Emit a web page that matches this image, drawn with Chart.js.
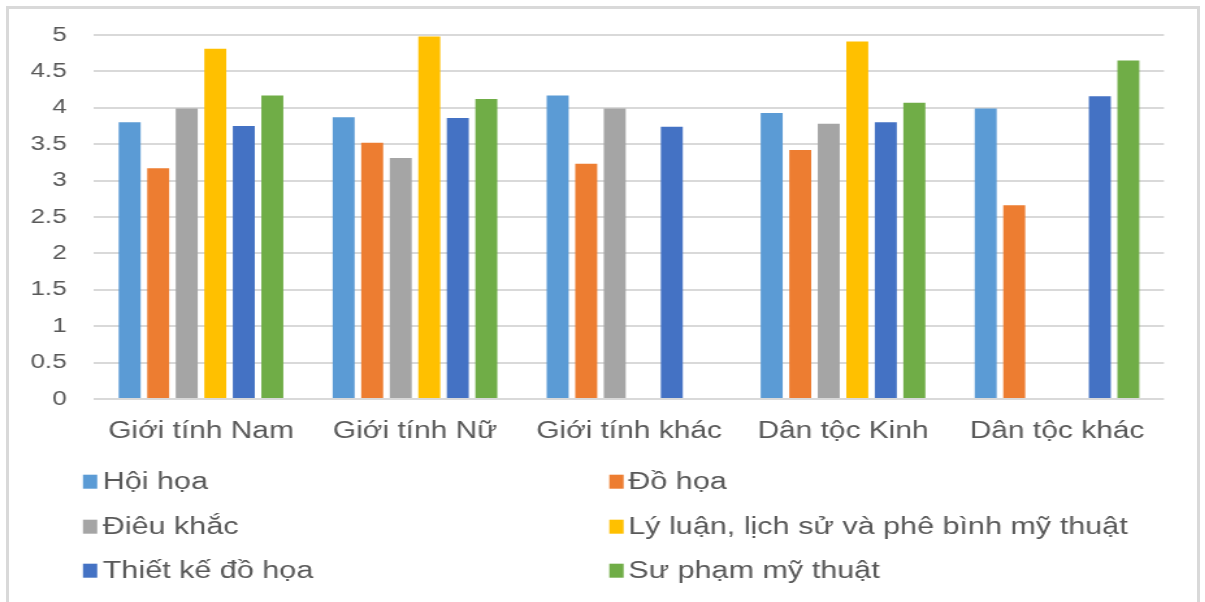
<!DOCTYPE html>
<html>
<head>
<meta charset="utf-8">
<script src="https://cdn.jsdelivr.net/npm/chart.js@4.4.0/dist/chart.umd.min.js"></script>
<style>
  body { margin: 0; background: #fff; overflow: hidden; width: 1205px; height: 602px; }
  #frame { position: absolute; left: 6px; top: 6px; width: 1194px; height: 700px; box-sizing: border-box; border: 3px solid #d9d9d9; border-bottom: none; }
  #wrap { position: absolute; left: 0; top: 0; width: 927px; height: 602px; transform: scaleX(1.3); transform-origin: 0 0; }
</style>
</head>
<body>
<div id="frame"></div>
<div id="wrap"><canvas id="js--chart" width="927" height="602"></canvas></div>
<script>
//data
const categories = ["Giới tính Nam", "Giới tính Nữ", "Giới tính khác", "Dân tộc Kinh", "Dân tộc khác"];
const seriesNames = ["Hội họa", "Đồ họa", "Điêu khắc", "Lý luận, lịch sử và phê bình mỹ thuật", "Thiết kế đồ họa", "Sư phạm mỹ thuật"];
const hoiHoa = [3.80, 3.87, 4.17, 3.93, 3.99];
const doHoa = [3.17, 3.52, 3.23, 3.42, 2.66];
const dieuKhac = [3.99, 3.31, 3.99, 3.78, null];
const lyLuan = [4.81, 4.98, null, 4.91, null];
const thietKe = [3.75, 3.86, 3.74, 3.80, 4.16];
const suPham = [4.17, 4.12, null, 4.07, 4.65];
const yTicks = [0, 0.5, 1, 1.5, 2, 2.5, 3, 3.5, 4, 4.5, 5];

const colors = ["#5B9BD5", "#ED7D31", "#A5A5A5", "#FFC000", "#4472C4", "#70AD47"];
const values = [hoiHoa, doHoa, dieuKhac, lyLuan, thietKe, suPham];
const textColor = "#595959";

//legend in two columns, like the excel one
const twoColLegend = {
  id: "twoColLegend",
  afterDraw(chart) {
    const ctx = chart.ctx;
    const boxX = [63.8, 468.7];
    const textX = [79, 483.3];
    const rowY = [481.7, 526.7, 570.7];
    ctx.save();
    ctx.font = "23.5px 'Liberation Sans', Arial, sans-serif";
    ctx.textBaseline = "middle";
    ctx.textAlign = "left";
    chart.data.datasets.forEach((ds, i) => {
      const col = i % 2;
      const row = Math.floor(i / 2);
      ctx.fillStyle = ds.backgroundColor;
      ctx.fillRect(boxX[col], rowY[row] - 7, 11, 14);
      ctx.fillStyle = textColor;
      ctx.fillText(ds.label, textX[col], rowY[row] + 1);
    });
    ctx.restore();
  }
};

const data = {
  labels: categories,
  datasets: seriesNames.map((name, i) => ({
    label: name,
    data: values[i],
    backgroundColor: colors[i],
    categoryPercentage: 0.8,
    barPercentage: 0.77
  }))
};

const config = {
  type: "bar",
  data: data,
  options: {
    responsive: false,
    animation: false,
    devicePixelRatio: 1,
    layout: { padding: { top: 35, right: 31.6, left: 0, bottom: 0 } },
    plugins: {
      legend: { display: false },
      tooltip: { enabled: false }
    },
    scales: {
      x: {
        grid: { display: false },
        border: { display: false },
        ticks: {
          color: textColor,
          padding: 11,
          font: { family: "'Liberation Sans', Arial, sans-serif", size: 23 }
        },
        afterFit(scale) { scale.height = 203; }
      },
      y: {
        min: 0,
        max: 5,
        afterBuildTicks(scale) { scale.ticks = yTicks.map(v => ({ value: v })); },
        grid: { color: "#d9d9d9", lineWidth: 2, drawTicks: false },
        border: { display: false },
        ticks: {
          color: textColor,
          padding: 21,
          font: { family: "'Liberation Sans', Arial, sans-serif", size: 20 },
          callback: v => String(v)
        },
        afterFit(scale) { scale.width = 72.3; }
      }
    }
  },
  plugins: [twoColLegend]
};

const chart1 = new Chart(document.getElementById("js--chart"), config);
</script>
</body>
</html>
